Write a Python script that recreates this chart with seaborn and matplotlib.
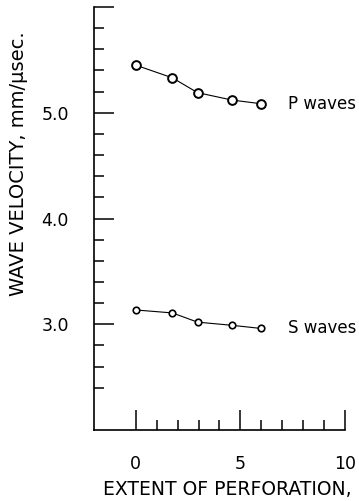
import matplotlib
matplotlib.use("Agg")
import matplotlib.pyplot as plt
import seaborn as sns
import pandas as pd
import numpy as np

# Data
extent = [0, 1.75, 2.95, 4.6, 6.0]
p_velocity = [5.45, 5.33, 5.19, 5.12, 5.085]
s_velocity = [3.135, 3.107, 3.02, 2.99, 2.96]
series_names = ["P waves", "S waves"]
x_tick_labels = ["0", "5", "10"]
y_tick_labels = ["3.0", "4.0", "5.0", ""]

sns.set_style("ticks")
plt.rcParams["font.family"] = ["DejaVu Sans"]
plt.rcParams["text.color"] = "black"
plt.rcParams["xtick.color"] = "black"
plt.rcParams["ytick.color"] = "black"
plt.rcParams["axes.labelcolor"] = "black"

fig = plt.figure(figsize=(3.59, 5.01), dpi=100)
ax = fig.add_axes([94/359, (501-430)/501, (345-94)/359, (430-7)/501])

df_p = pd.DataFrame({"extent": extent, "velocity": p_velocity})
df_s = pd.DataFrame({"extent": extent, "velocity": s_velocity})

sns.lineplot(data=df_p, x="extent", y="velocity", ax=ax, color="black",
             linewidth=0.8, marker="o", markersize=6.3, markerfacecolor="white",
             markeredgecolor="black", markeredgewidth=1.4)
sns.lineplot(data=df_s, x="extent", y="velocity", ax=ax, color="black",
             linewidth=0.8, marker="o", markersize=4.7, markerfacecolor="white",
             markeredgecolor="black", markeredgewidth=1.2)

ax.set_xlim(-2, 10)
ax.set_ylim(2.0, 6.0)
ax.set_xticks([0, 5, 10])
ax.set_xticklabels(x_tick_labels)
ax.set_xticks([1, 2, 3, 4, 6, 7, 8, 9], minor=True)
ax.set_yticks([3, 4, 5, 6])
ax.set_yticklabels(y_tick_labels)
ax.set_yticks([2.4, 2.6, 2.8, 3.2, 3.4, 3.6, 3.8, 4.2, 4.4, 4.6, 4.8,
               5.2, 5.4, 5.6, 5.8], minor=True)

ax.tick_params(axis="both", which="major", direction="in", length=14.4,
               width=1.1, color="black", labelcolor="black", pad=18, labelsize=12.5)
ax.tick_params(axis="both", which="minor", direction="in", length=7.2,
               width=1.1, color="black")

sns.despine(ax=ax, top=True, right=True)
for side in ["left", "bottom"]:
    ax.spines[side].set_linewidth(1.2)
    ax.spines[side].set_color("black")

ax.set_xlabel("")
ax.set_ylabel("")

ax.text(7.26, p_velocity[-1], series_names[0], ha="left", va="center",
        fontsize=12, color="black")
ax.text(7.26, s_velocity[-1], series_names[1], ha="left", va="center",
        fontsize=12, color="black")

fig.text(19/359, 1 - 164/501, "WAVE VELOCITY, mm/\u00b5sec.", rotation=90,
         ha="center", va="center", fontsize=14, color="black")
fig.text(103/359, 1 - 489.5/501, "EXTENT OF PERFORATION,", ha="left",
         va="center", fontsize=13.5, color="black")

fig.savefig("out.png", dpi=100)
